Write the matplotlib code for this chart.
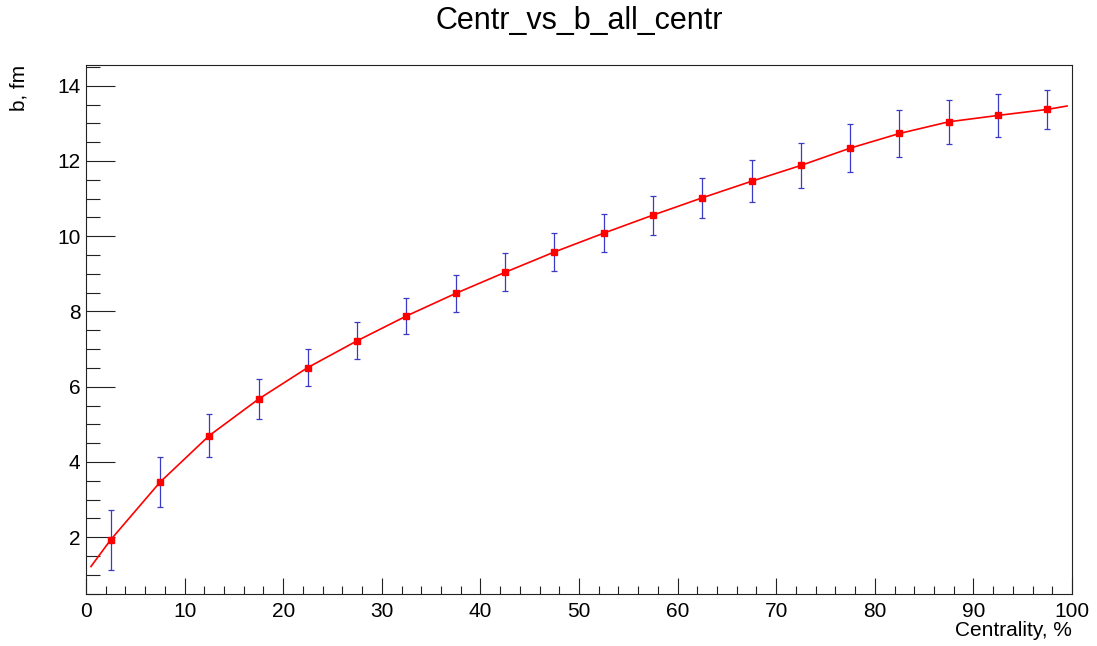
import matplotlib as mpl
mpl.use('Agg')
import matplotlib.pyplot as plt
import numpy as np

# centrality bins (bin centres, %) and mean impact parameter (fm)
centrality = [2.5, 7.5, 12.5, 17.5, 22.5, 27.5, 32.5, 37.5, 42.5, 47.5,
              52.5, 57.5, 62.5, 67.5, 72.5, 77.5, 82.5, 87.5, 92.5, 97.5]
b_mean = [1.93, 3.46, 4.70, 5.67, 6.51, 7.22, 7.88, 8.48, 9.04, 9.58,
          10.08, 10.56, 11.02, 11.46, 11.88, 12.34, 12.73, 13.04, 13.21, 13.37]
b_err = [0.80, 0.67, 0.57, 0.53, 0.50, 0.49, 0.49, 0.49, 0.50, 0.50,
         0.51, 0.52, 0.53, 0.56, 0.60, 0.63, 0.63, 0.59, 0.57, 0.52]

# fit curve
fit_x = [0.5] + centrality + [99.5]
fit_y = [1.22, 1.93, 3.46, 4.70, 5.67, 6.51, 7.22, 7.88, 8.48, 9.04, 9.58,
         10.08, 10.56, 11.02, 11.46, 11.88, 12.34, 12.73, 13.04, 13.21, 13.37,
         13.46]

plt.rcParams['font.family'] = ['Liberation Sans', 'DejaVu Sans']

fig = plt.figure(figsize=(10.97, 6.46), dpi=100)
ax = fig.add_axes([86/1097, 1 - 594/646, (1072 - 86)/1097, (594 - 65)/646])

ax.plot(fit_x, fit_y, color='red', lw=1.2, zorder=2)
ax.errorbar(centrality, b_mean, yerr=b_err, fmt='none', ecolor='#3a3ac4',
            elinewidth=0.9, capsize=2, capthick=0.9, zorder=3)
ax.plot(centrality, b_mean, 's', color='red', markersize=4.5, zorder=4)

ax.set_xlim(0, 100)
ax.set_ylim(0.49, 14.55)

ax.set_xticks(np.arange(0, 101, 10))
ax.set_xticks(np.arange(0, 101, 2), minor=True)
ax.set_yticks(np.arange(2, 15, 2))
ax.set_yticks(np.arange(0.5, 14.6, 0.5), minor=True)

ax.tick_params(axis='both', which='both', direction='in', colors='#222222',
               labelsize=15, width=0.8)
ax.tick_params(axis='x', which='major', length=11.5, pad=5.5)
ax.tick_params(axis='x', which='minor', length=5.8)
ax.tick_params(axis='y', which='major', length=21, pad=4)
ax.tick_params(axis='y', which='minor', length=10.4)
ax.tick_params(axis='both', which='both', labelcolor='black')
for s in ax.spines.values():
    s.set_linewidth(0.8)
    s.set_color('#222222')

ax.text(1.0, -(631 - 594)/529, 'Centrality, %', transform=ax.transAxes,
        ha='right', va='center', fontsize=15)
ax.text((19 - 86)/986, 1.0, 'b, fm', transform=ax.transAxes, rotation=90,
        ha='center', va='top', fontsize=15)

fig.text(579/1097, 1 - 21/646, 'Centr_vs_b_all_centr', ha='center',
         va='center', fontsize=22)

fig.savefig('out.png', dpi=100)
